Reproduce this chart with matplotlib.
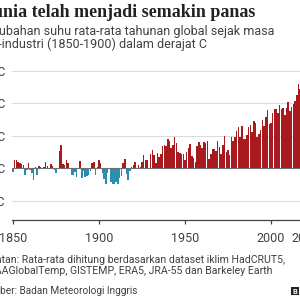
import matplotlib
matplotlib.use("Agg")
import matplotlib.pyplot as plt
from matplotlib.patches import Rectangle

years = list(range(1850, 2023))
anomaly = [
    -0.06, 0.13, 0.13, 0.09, 0.07, 0.06, 0.04, -0.11, -0.03, 0.08,
    -0.03, -0.07, -0.18, 0.02, -0.11, 0.03, 0.02, 0.00, 0.02, 0.09,
    0.03, -0.01, 0.06, 0.03, -0.03, -0.07, -0.02, 0.26, 0.36, 0.06,
    0.04, 0.13, 0.07, -0.01, -0.11, -0.11, -0.06, -0.14, -0.02, 0.11,
    -0.15, -0.04, -0.14, -0.13, -0.10, -0.05, 0.08, 0.09, -0.11, 0.01,
    0.13, 0.07, -0.08, -0.17, -0.24, -0.08, -0.01, -0.21, -0.24, -0.24,
    -0.22, -0.25, -0.15, -0.13, 0.07, 0.14, -0.09, -0.18, -0.04, 0.02,
    0.04, 0.09, 0.00, 0.04, 0.02, 0.09, 0.20, 0.12, 0.13, -0.01,
    0.21, 0.27, 0.20, 0.07, 0.23, 0.17, 0.22, 0.34, 0.36, 0.34,
    0.45, 0.41, 0.31, 0.35, 0.48, 0.39, 0.25, 0.23, 0.22, 0.21,
    0.13, 0.25, 0.31, 0.37, 0.18, 0.15, 0.09, 0.34, 0.40, 0.35,
    0.31, 0.40, 0.39, 0.42, 0.14, 0.21, 0.30, 0.29, 0.26, 0.41,
    0.32, 0.22, 0.36, 0.49, 0.24, 0.28, 0.20, 0.48, 0.41, 0.47,
    0.57, 0.63, 0.48, 0.64, 0.45, 0.45, 0.51, 0.63, 0.66, 0.55,
    0.72, 0.70, 0.48, 0.53, 0.59, 0.74, 0.64, 0.78, 0.90, 0.68,
    0.69, 0.85, 0.91, 0.91, 0.84, 0.97, 0.91, 0.93, 0.82, 0.93,
    1.01, 0.88, 0.94, 0.98, 1.03, 1.13, 1.29, 1.21, 1.12, 1.25,
    1.28, 1.12, 1.16,
]
y_ticks = [-0.5, 0, 0.5, 1, 1.5]
y_labels = ["-0,5C", "0C", "0,5C", "1C", "1,5C"]
x_ticks = [1850, 1900, 1950, 2000, 2020]

RED = "#a81a1d"
BLUE = "#2b8db0"
SANS = ["Roboto", "DejaVu Sans"]

W = H = 300
fig = plt.figure(figsize=(3, 3), dpi=100)

# axes placed in pixel terms: 1850 at x=13, 1.72 px per year, 0C at y=168, 65 px per degree
px_year = 1.72
x_lo, x_hi = 1849.4, 2023.5
left_px = 13 - (1850 - x_lo) * px_year
right_px = 13 + (x_hi - 1850) * px_year
y_lo, y_hi = -0.8, 1.6
bot_px = 168 + 0.8 * 65
top_px = 168 - 1.6 * 65
ax = fig.add_axes([left_px / W, 1 - bot_px / H, (right_px - left_px) / W, (bot_px - top_px) / H])

colors = [RED if v >= 0 else BLUE for v in anomaly]
ax.bar(years, anomaly, width=0.9, color=colors, linewidth=0, zorder=2)
ax.axhline(0, color="#6e6e6e", lw=0.8, zorder=3)

ax.set_xlim(x_lo, x_hi)
ax.set_ylim(y_lo, y_hi)
ax.set_yticks(y_ticks)
ax.set_yticklabels(y_labels)
ax.set_xticks(x_ticks)
ax.set_xticklabels([str(t) for t in x_ticks])
ax.grid(axis="y", color="#dcdcdc", lw=0.8, zorder=0)
for s in ("top", "right", "left"):
    ax.spines[s].set_visible(False)
ax.spines["bottom"].set_color("#444444")
ax.spines["bottom"].set_linewidth(0.9)
ax.tick_params(axis="y", length=0, pad=5, labelsize=8.5, labelcolor="#404040")
ax.tick_params(axis="x", length=3, width=0.9, color="#444444", pad=6, labelsize=9, labelcolor="#404040")
for lab in ax.get_xticklabels() + ax.get_yticklabels():
    lab.set_family(SANS)

x0 = -20 / W
fig.text(x0, 1 - 17 / H, "Dunia telah menjadi semakin panas", family=["Liberation Serif", "DejaVu Serif"],
         fontweight="bold", fontsize=13, color="#222222", va="baseline")
fig.text(x0, 1 - 34.5 / H, "Perubahan suhu rata-rata tahunan global sejak masa", family=SANS,
         fontsize=9, color="#404040", va="baseline")
fig.text(x0, 1 - 48 / H, "pra-industri (1850-1900) dalam derajat C", family=SANS,
         fontsize=9, color="#404040", va="baseline")
fig.text(x0, 1 - 263 / H, "Catatan: Rata-rata dihitung berdasarkan dataset iklim HadCRUT5,", family=SANS,
         fontsize=7.6, color="#404040", va="baseline")
fig.text(x0, 1 - 274.5 / H, "NOAAGlobalTemp, GISTEMP, ERA5, JRA-55 dan Barkeley Earth", family=SANS,
         fontsize=7.6, color="#404040", va="baseline")
fig.text(x0, 1 - 294 / H, "Sumber: Badan Meteorologi Inggris", family=SANS,
         fontsize=7.2, color="#404040", va="baseline")

# BBC logo blocks at the bottom right
for i, ch in enumerate("BBC"):
    bx = 291 + i * 10
    fig.patches.append(Rectangle((bx / W, 1 - 295 / H), 8 / W, 8 / H, transform=fig.transFigure,
                                 facecolor="#222222", edgecolor="none"))
    fig.text((bx + 4) / W, 1 - 291 / H, ch, family=SANS, fontweight="bold", fontsize=5.5,
             color="white", ha="center", va="center")

fig.savefig("out.png", dpi=100)
